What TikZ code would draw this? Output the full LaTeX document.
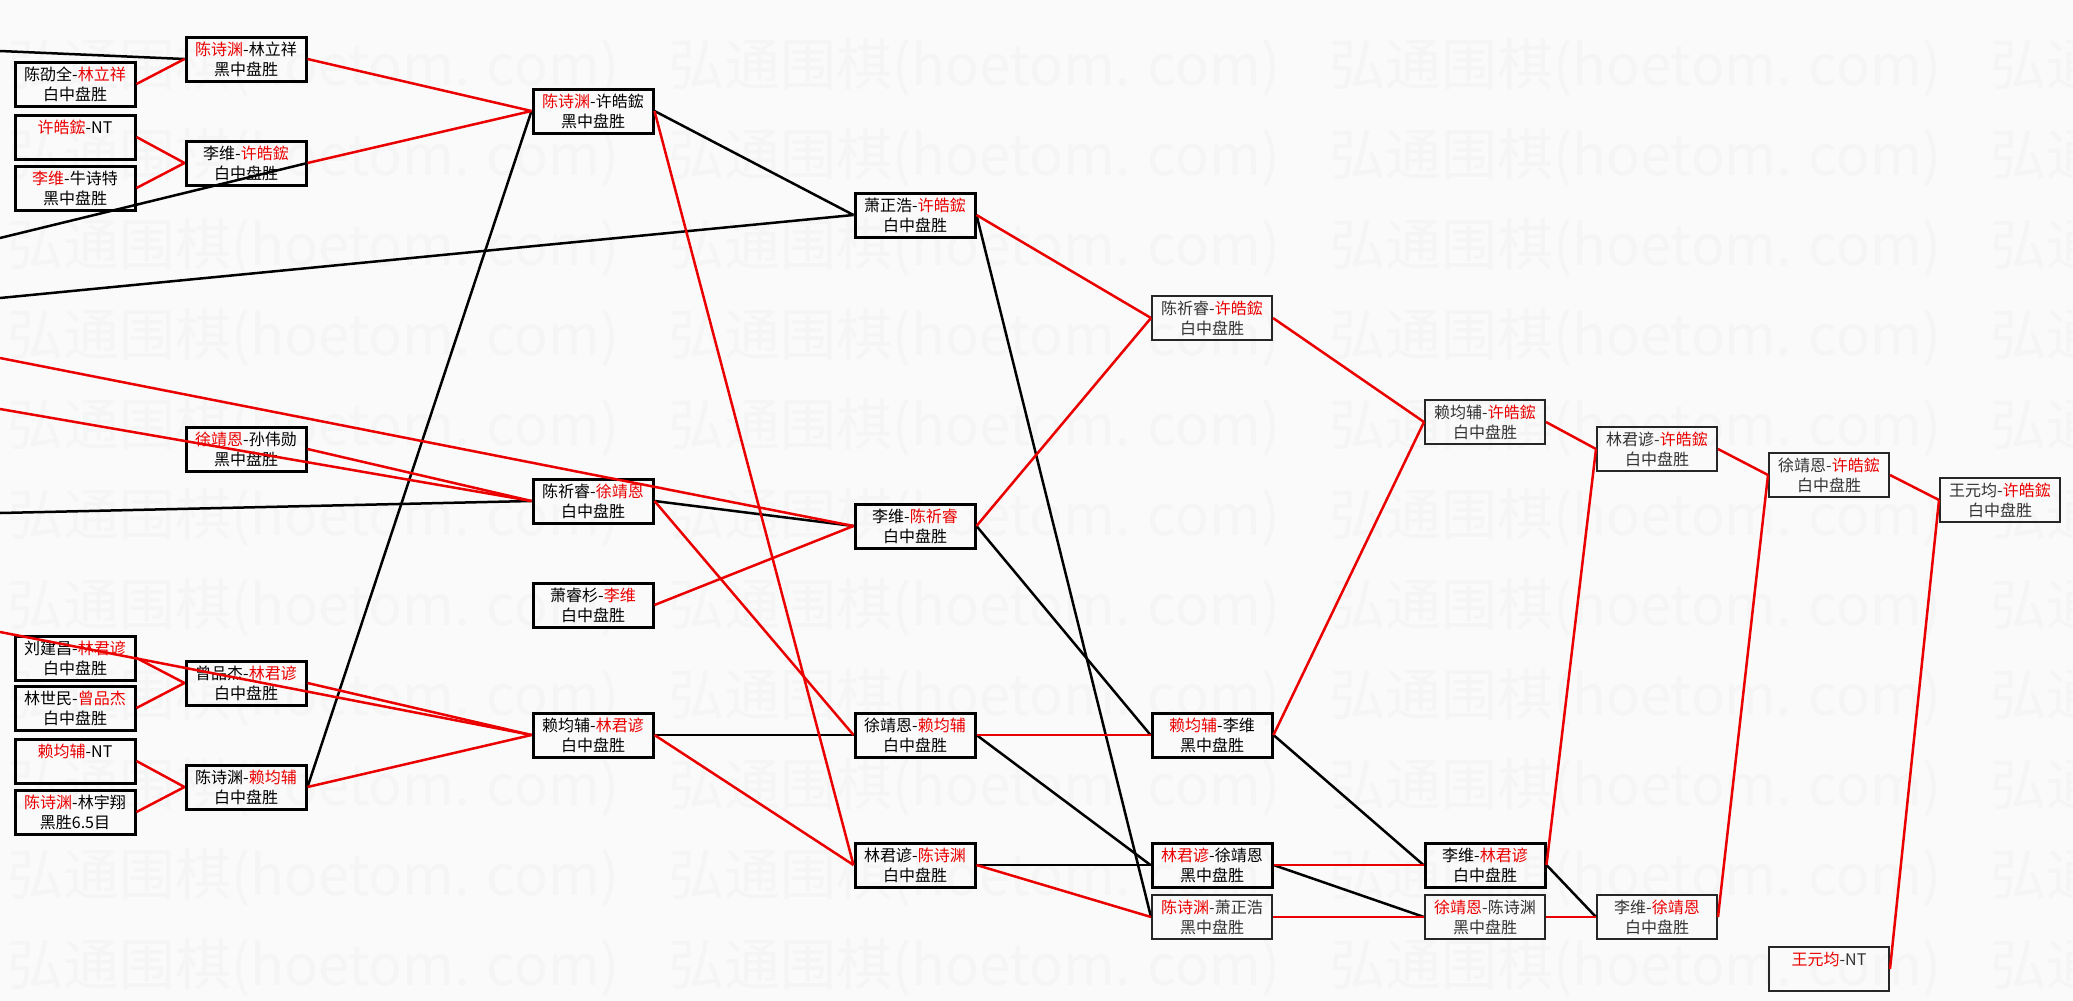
\documentclass[tikz,border=0pt]{standalone}
\usepackage{fontspec}
\setmainfont{Noto Sans CJK SC}
\definecolor{winred}{RGB}{235,0,0}
\definecolor{paper}{RGB}{250,250,250}
\newcommand{\wn}[1]{\textcolor{winred}{#1}}

\begin{document}
\begin{tikzpicture}[
    x=0.5pt, y=-0.5pt,
    match/.style={rectangle, draw, line width=1.5pt, minimum width=60pt, minimum height=22pt,
                  inner sep=0pt, align=center, font=\fontsize{8}{10}\selectfont},
    matchlite/.style={match, line width=1pt, draw=black!85, text=black!80},
    wline/.style={winred, line width=1.25pt},
    lline/.style={black, line width=1.25pt},
    wmark/.style={black!4, anchor=west, inner sep=0pt, font=\fontsize{28}{30}\selectfont}
]
\fill[paper] (0,0) rectangle (2073,1001);
\useasboundingbox (0,0) rectangle (2073,1001);

% watermark
\foreach \r in {0,...,10}
  \foreach \c in {0,...,3}
    \node[wmark] (wm\r-\c) at ({7+661*\c},{67+90*\r}) {弘通围棋(hoetom. com)};

% round 1
\node[match] (m11) at (75,84)  {陈劭全-\wn{林立祥}\\白中盘胜};
\node[match] (m12) at (75,137) {\wn{许皓鋐}-NT\\\phantom{白中盘胜}};
\node[match] (m13) at (75,188) {\wn{李维}-牛诗特\\黑中盘胜};
\node[match] (m14) at (75,658) {刘建昌-\wn{林君谚}\\白中盘胜};
\node[match] (m15) at (75,708) {林世民-\wn{曾品杰}\\白中盘胜};
\node[match] (m16) at (75,761) {\wn{赖均辅}-NT\\\phantom{白中盘胜}};
\node[match] (m17) at (75,812) {\wn{陈诗渊}-林宇翔\\黑胜6.5目};

% round 2
\node[match] (m21) at (246,59)  {\wn{陈诗渊}-林立祥\\黑中盘胜};
\node[match] (m22) at (246,163) {李维-\wn{许皓鋐}\\白中盘胜};
\node[match] (m23) at (246,449) {\wn{徐靖恩}-孙伟勋\\黑中盘胜};
\node[match] (m24) at (246,683) {曾品杰-\wn{林君谚}\\白中盘胜};
\node[match] (m25) at (246,787) {陈诗渊-\wn{赖均辅}\\白中盘胜};

% round 3
\node[match] (m31) at (593,111) {\wn{陈诗渊}-许皓鋐\\黑中盘胜};
\node[match] (m32) at (593,501) {陈祈睿-\wn{徐靖恩}\\白中盘胜};
\node[match] (m33) at (593,605) {萧睿杉-\wn{李维}\\白中盘胜};
\node[match] (m34) at (593,735) {赖均辅-\wn{林君谚}\\白中盘胜};

% round 4
\node[match] (m41) at (915,215) {萧正浩-\wn{许皓鋐}\\白中盘胜};
\node[match] (m42) at (915,526) {李维-\wn{陈祈睿}\\白中盘胜};
\node[match] (m43) at (915,735) {徐靖恩-\wn{赖均辅}\\白中盘胜};
\node[match] (m44) at (915,865) {林君谚-\wn{陈诗渊}\\白中盘胜};

% round 5
\node[matchlite] (m51) at (1212,318) {陈祈睿-\wn{许皓鋐}\\白中盘胜};
\node[match]     (m52) at (1212,735) {\wn{赖均辅}-李维\\黑中盘胜};
\node[match]     (m53) at (1212,865) {\wn{林君谚}-徐靖恩\\黑中盘胜};
\node[matchlite] (m54) at (1212,917) {\wn{陈诗渊}-萧正浩\\黑中盘胜};

% round 6
\node[matchlite] (m61) at (1485,422) {赖均辅-\wn{许皓鋐}\\白中盘胜};
\node[match]     (m62) at (1485,865) {李维-\wn{林君谚}\\白中盘胜};
\node[matchlite] (m63) at (1485,917) {\wn{徐靖恩}-陈诗渊\\黑中盘胜};

% rounds 7 to 9
\node[matchlite] (m71) at (1657,449) {林君谚-\wn{许皓鋐}\\白中盘胜};
\node[matchlite] (m72) at (1657,917) {李维-\wn{徐靖恩}\\白中盘胜};
\node[matchlite] (m81) at (1829,475) {徐靖恩-\wn{许皓鋐}\\白中盘胜};
\node[matchlite] (m82) at (1829,969) {\wn{王元均}-NT\\\phantom{白中盘胜}};
\node[matchlite] (m91) at (2000,500) {王元均-\wn{许皓鋐}\\白中盘胜};

% loose ends at the left margin
\coordinate (e1) at (0,51);
\coordinate (e2) at (0,238);
\coordinate (e3) at (0,298);
\coordinate (e4) at (0,358);
\coordinate (e5) at (0,409);
\coordinate (e6) at (0,513);
\coordinate (e7) at (0,632);

% losers
\draw[lline] (e1) -- (m21.west);
\draw[lline] (e2) -- (m22.east);
\draw[lline] (e3) -- (m41.west);
\draw[lline] (e6) -- (m32.west);
\draw[lline] (m31.west) -- (m25.east);
\foreach \a/\b in {m31/m41, m32/m42, m34/m43, m42/m52, m41/m54, m43/m53,
                   m44/m53, m52/m62, m53/m63, m62/m72}
  \draw[lline] (\a.east) -- (\b.west);

% winners
\draw[wline] (e4) -- (m42.west);
\draw[wline] (e5) -- (m32.west);
\draw[wline] (e7) -- (m34.west);
\foreach \a/\b in {m11/m21, m12/m22, m13/m22, m14/m24, m15/m24, m16/m25, m17/m25,
                   m21/m31, m22/m31, m23/m32, m24/m34, m25/m34,
                   m31/m44, m32/m43, m33/m42, m34/m44,
                   m41/m51, m42/m51, m43/m52, m44/m54,
                   m51/m61, m52/m61, m53/m62, m54/m63,
                   m61/m71, m62/m71, m63/m72, m71/m81, m72/m81, m81/m91, m82/m91}
  \draw[wline] (\a.east) -- (\b.west);
\end{tikzpicture}
\end{document}
